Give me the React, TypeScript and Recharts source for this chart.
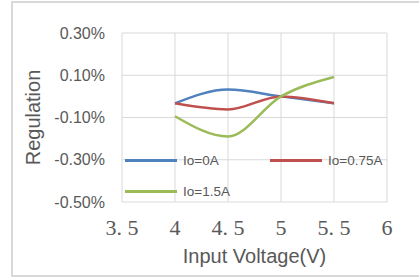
import { LineChart, Line, XAxis, YAxis, CartesianGrid } from "recharts";

const voltages = [4, 4.5, 5, 5.5];
const io0 = [-0.033, 0.032, 0.0, -0.033];
const io075 = [-0.033, -0.062, 0.0, -0.033];
const io15 = [-0.094, -0.19, 0.0, 0.092];

const xTicks = [3.5, 4, 4.5, 5, 5.5, 6];
const yTicks = [-0.5, -0.3, -0.1, 0.1, 0.3];

const series = [
  { key: "io0", name: "Io=0A", color: "#4F81BD" },
  { key: "io075", name: "Io=0.75A", color: "#C0504D" },
  { key: "io15", name: "Io=1.5A", color: "#9BBB59" },
];

const data = voltages.map((v, i) => ({
  v,
  io0: io0[i],
  io075: io075[i],
  io15: io15[i],
}));

const FONT = "'Liberation Sans', Arial, sans-serif";

// legend sits inside the plot area, like the Excel original
function LegendBox() {
  return (
    <div
      style={{
        position: "absolute",
        left: 125,
        top: 145,
        width: 300,
        display: "flex",
        flexWrap: "wrap",
      }}
    >
      {series.map((s) => (
        <div
          key={s.key}
          style={{
            width: 145,
            height: 31,
            display: "flex",
            alignItems: "center",
            fontFamily: FONT,
            fontSize: 13.5,
            color: "#595959",
          }}
        >
          <span
            style={{
              display: "inline-block",
              width: 52,
              height: 2.5,
              background: s.color,
              marginRight: 6,
            }}
          />
          {s.name}
        </div>
      ))}
    </div>
  );
}

export default function App() {
  return (
    <div style={{ position: "absolute", left: 0, top: 0, width: 419, height: 277, background: "#fff" }}>
      <div
        style={{
          position: "absolute",
          left: 11,
          top: 1,
          width: 420,
          height: 272,
          border: "2px solid #d9d9d9",
          borderRight: "none",
        }}
      />
      <LineChart
        width={419}
        height={277}
        data={data}
        margin={{ top: 33, right: 32, bottom: 45, left: 12 }}
      >
        <CartesianGrid stroke="#d9d9d9" strokeWidth={1} />
        <XAxis
          dataKey="v"
          type="number"
          domain={[3.5, 6]}
          ticks={xTicks}
          height={30}
          axisLine={false}
          tickLine={false}
          tickSize={0}
          tickMargin={17}
          interval={0}
          tickFormatter={(v: number) => String(v).replace(".", ". ")}
          tick={{ fill: "#595959", fontSize: 22, fontFamily: "'Liberation Serif', serif" }}
          label={({ viewBox }: any) => (
            <text
              x={viewBox.x + viewBox.width / 2}
              y={263}
              textAnchor="middle"
              fill="#595959"
              fontSize={20}
              fontFamily={FONT}
            >
              Input Voltage(V)
            </text>
          )}
        />
        <YAxis
          type="number"
          domain={[-0.5, 0.3]}
          ticks={yTicks}
          width={110}
          axisLine={false}
          tickLine={false}
          tickSize={0}
          tickMargin={17}
          interval={0}
          tickFormatter={(v: number) => `${v.toFixed(2)}%`}
          tick={{ fill: "#595959", fontSize: 16, fontFamily: FONT }}
          label={({ viewBox }: any) => {
            const cx = viewBox.x + 21;
            const cy = viewBox.y + viewBox.height / 2;
            return (
              <text
                x={cx}
                y={cy}
                transform={`rotate(-90 ${cx} ${cy})`}
                textAnchor="middle"
                dominantBaseline="central"
                fill="#595959"
                fontSize={20}
                fontFamily={FONT}
              >
                Regulation
              </text>
            );
          }}
        />
        {series.map((s) => (
          <Line
            key={s.key}
            type="monotone"
            dataKey={s.key}
            name={s.name}
            stroke={s.color}
            strokeWidth={2.5}
            dot={false}
            isAnimationActive={false}
          />
        ))}
      </LineChart>
      <LegendBox />
    </div>
  );
}
